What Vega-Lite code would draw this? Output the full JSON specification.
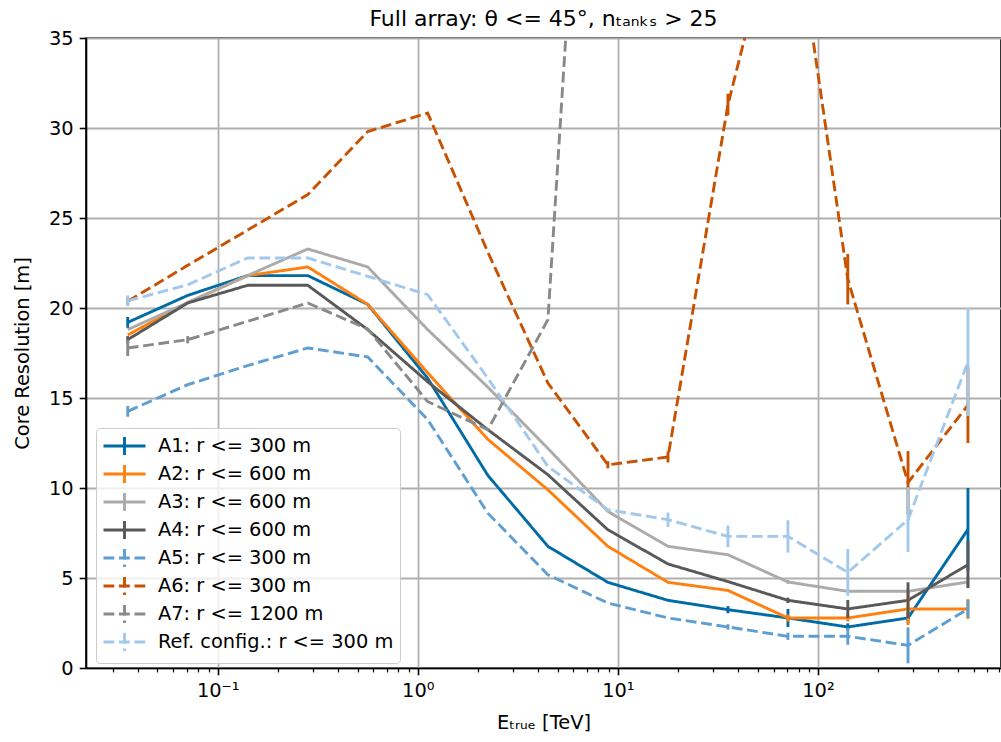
{
  "$schema": "https://vega.github.io/schema/vega-lite/v6.json",
  "width": 915,
  "height": 630,
  "autosize": {"type": "none"},
  "padding": {"left": 86, "top": 38, "right": 0, "bottom": 74},
  "background": "white",
  "title": {"text": "Full array: θ <= 45°, nₜₐₙₖₛ > 25", "font": "DejaVu Sans", "fontSize": 22, "fontWeight": "normal", "color": "black", "anchor": "middle", "frame": "group", "offset": -3},
  "config": {
    "view": {"stroke": "black", "strokeWidth": 1.6},
    "axis": {"labelFont": "DejaVu Sans", "labelFontSize": 19.4, "labelColor": "black", "titleFont": "DejaVu Sans", "titleFontSize": 19.4, "titleFontWeight": "normal", "titleColor": "black", "domainColor": "black", "domainWidth": 1.6, "tickColor": "black", "tickWidth": 1.6, "gridColor": "#b0b0b0", "gridWidth": 1.8}
  },
  "data": {"values": [
    {"series": "A1: r <= 300 m", "E": 0.0355, "R": 19.2, "err": 0.3},
    {"series": "A1: r <= 300 m", "E": 0.0708, "R": 20.7, "err": 0},
    {"series": "A1: r <= 300 m", "E": 0.141, "R": 21.8, "err": 0},
    {"series": "A1: r <= 300 m", "E": 0.282, "R": 21.8, "err": 0},
    {"series": "A1: r <= 300 m", "E": 0.562, "R": 20.2, "err": 0},
    {"series": "A1: r <= 300 m", "E": 1.12, "R": 16.1, "err": 0},
    {"series": "A1: r <= 300 m", "E": 2.24, "R": 10.7, "err": 0},
    {"series": "A1: r <= 300 m", "E": 4.47, "R": 6.76, "err": 0},
    {"series": "A1: r <= 300 m", "E": 8.91, "R": 4.76, "err": 0},
    {"series": "A1: r <= 300 m", "E": 17.8, "R": 3.76, "err": 0},
    {"series": "A1: r <= 300 m", "E": 35.5, "R": 3.24, "err": 0.2},
    {"series": "A1: r <= 300 m", "E": 70.8, "R": 2.78, "err": 0.5},
    {"series": "A1: r <= 300 m", "E": 141, "R": 2.28, "err": 0.2},
    {"series": "A1: r <= 300 m", "E": 282, "R": 2.78, "err": 0.3},
    {"series": "A1: r <= 300 m", "E": 562, "R": 7.7, "err": 2.3},
    {"series": "A2: r <= 600 m", "E": 0.0355, "R": 18.5, "err": 0},
    {"series": "A2: r <= 600 m", "E": 0.0708, "R": 20.3, "err": 0},
    {"series": "A2: r <= 600 m", "E": 0.141, "R": 21.8, "err": 0},
    {"series": "A2: r <= 600 m", "E": 0.282, "R": 22.28, "err": 0},
    {"series": "A2: r <= 600 m", "E": 0.562, "R": 20.2, "err": 0},
    {"series": "A2: r <= 600 m", "E": 1.12, "R": 16.4, "err": 0},
    {"series": "A2: r <= 600 m", "E": 2.24, "R": 12.7, "err": 0},
    {"series": "A2: r <= 600 m", "E": 4.47, "R": 9.9, "err": 0},
    {"series": "A2: r <= 600 m", "E": 8.91, "R": 6.76, "err": 0},
    {"series": "A2: r <= 600 m", "E": 17.8, "R": 4.76, "err": 0},
    {"series": "A2: r <= 600 m", "E": 35.5, "R": 4.31, "err": 0},
    {"series": "A2: r <= 600 m", "E": 70.8, "R": 2.78, "err": 0.2},
    {"series": "A2: r <= 600 m", "E": 141, "R": 2.78, "err": 0.2},
    {"series": "A2: r <= 600 m", "E": 282, "R": 3.28, "err": 0.9},
    {"series": "A2: r <= 600 m", "E": 562, "R": 3.28, "err": 0.55},
    {"series": "A3: r <= 600 m", "E": 0.0355, "R": 18.8, "err": 0},
    {"series": "A3: r <= 600 m", "E": 0.0708, "R": 20.3, "err": 0},
    {"series": "A3: r <= 600 m", "E": 0.141, "R": 21.8, "err": 0},
    {"series": "A3: r <= 600 m", "E": 0.282, "R": 23.28, "err": 0},
    {"series": "A3: r <= 600 m", "E": 0.562, "R": 22.28, "err": 0},
    {"series": "A3: r <= 600 m", "E": 1.12, "R": 18.8, "err": 0},
    {"series": "A3: r <= 600 m", "E": 2.24, "R": 15.6, "err": 0},
    {"series": "A3: r <= 600 m", "E": 4.47, "R": 12.2, "err": 0},
    {"series": "A3: r <= 600 m", "E": 8.91, "R": 8.7, "err": 0},
    {"series": "A3: r <= 600 m", "E": 17.8, "R": 6.76, "err": 0},
    {"series": "A3: r <= 600 m", "E": 35.5, "R": 6.29, "err": 0},
    {"series": "A3: r <= 600 m", "E": 70.8, "R": 4.78, "err": 0.1},
    {"series": "A3: r <= 600 m", "E": 141, "R": 4.26, "err": 0},
    {"series": "A3: r <= 600 m", "E": 282, "R": 4.26, "err": 0.1},
    {"series": "A3: r <= 600 m", "E": 562, "R": 4.78, "err": 0.3},
    {"series": "A4: r <= 600 m", "E": 0.0355, "R": 18.24, "err": 0.2},
    {"series": "A4: r <= 600 m", "E": 0.0708, "R": 20.28, "err": 0},
    {"series": "A4: r <= 600 m", "E": 0.141, "R": 21.26, "err": 0},
    {"series": "A4: r <= 600 m", "E": 0.282, "R": 21.26, "err": 0},
    {"series": "A4: r <= 600 m", "E": 0.562, "R": 18.8, "err": 0},
    {"series": "A4: r <= 600 m", "E": 1.12, "R": 15.9, "err": 0},
    {"series": "A4: r <= 600 m", "E": 2.24, "R": 13.24, "err": 0},
    {"series": "A4: r <= 600 m", "E": 4.47, "R": 10.74, "err": 0},
    {"series": "A4: r <= 600 m", "E": 8.91, "R": 7.68, "err": 0},
    {"series": "A4: r <= 600 m", "E": 17.8, "R": 5.78, "err": 0},
    {"series": "A4: r <= 600 m", "E": 35.5, "R": 4.8, "err": 0},
    {"series": "A4: r <= 600 m", "E": 70.8, "R": 3.76, "err": 0.15},
    {"series": "A4: r <= 600 m", "E": 141, "R": 3.28, "err": 0.5},
    {"series": "A4: r <= 600 m", "E": 282, "R": 3.76, "err": 1.0},
    {"series": "A4: r <= 600 m", "E": 562, "R": 5.74, "err": 1.3},
    {"series": "A5: r <= 300 m", "E": 0.0355, "R": 14.26, "err": 0.3},
    {"series": "A5: r <= 300 m", "E": 0.0708, "R": 15.74, "err": 0},
    {"series": "A5: r <= 300 m", "E": 0.141, "R": 16.8, "err": 0},
    {"series": "A5: r <= 300 m", "E": 0.282, "R": 17.78, "err": 0},
    {"series": "A5: r <= 300 m", "E": 0.562, "R": 17.28, "err": 0},
    {"series": "A5: r <= 300 m", "E": 1.12, "R": 13.8, "err": 0},
    {"series": "A5: r <= 300 m", "E": 2.24, "R": 8.6, "err": 0},
    {"series": "A5: r <= 300 m", "E": 4.47, "R": 5.18, "err": 0},
    {"series": "A5: r <= 300 m", "E": 8.91, "R": 3.61, "err": 0},
    {"series": "A5: r <= 300 m", "E": 17.8, "R": 2.78, "err": 0},
    {"series": "A5: r <= 300 m", "E": 35.5, "R": 2.28, "err": 0.15},
    {"series": "A5: r <= 300 m", "E": 70.8, "R": 1.76, "err": 0.2},
    {"series": "A5: r <= 300 m", "E": 141, "R": 1.76, "err": 0.47},
    {"series": "A5: r <= 300 m", "E": 282, "R": 1.26, "err": 1.0},
    {"series": "A5: r <= 300 m", "E": 562, "R": 3.28, "err": 0.5},
    {"series": "A6: r <= 300 m", "E": 0.0355, "R": 20.37, "err": 0.2},
    {"series": "A6: r <= 300 m", "E": 0.0708, "R": 22.37, "err": 0},
    {"series": "A6: r <= 300 m", "E": 0.141, "R": 24.33, "err": 0},
    {"series": "A6: r <= 300 m", "E": 0.282, "R": 26.3, "err": 0},
    {"series": "A6: r <= 300 m", "E": 0.562, "R": 29.8, "err": 0},
    {"series": "A6: r <= 300 m", "E": 1.12, "R": 30.83, "err": 0},
    {"series": "A6: r <= 300 m", "E": 2.24, "R": 23.1, "err": 0},
    {"series": "A6: r <= 300 m", "E": 4.47, "R": 15.83, "err": 0},
    {"series": "A6: r <= 300 m", "E": 8.91, "R": 11.29, "err": 0.2},
    {"series": "A6: r <= 300 m", "E": 17.8, "R": 11.72, "err": 0.3},
    {"series": "A6: r <= 300 m", "E": 35.5, "R": 31.3, "err": 0.6},
    {"series": "A6: r <= 300 m", "E": 70.8, "R": 44.5, "err": 0},
    {"series": "A6: r <= 300 m", "E": 141, "R": 21.6, "err": 1.4},
    {"series": "A6: r <= 300 m", "E": 282, "R": 10.3, "err": 1.75},
    {"series": "A6: r <= 300 m", "E": 562, "R": 14.6, "err": 2.1},
    {"series": "A7: r <= 1200 m", "E": 0.0355, "R": 17.78, "err": 0.45},
    {"series": "A7: r <= 1200 m", "E": 0.0708, "R": 18.24, "err": 0.2},
    {"series": "A7: r <= 1200 m", "E": 0.141, "R": 19.26, "err": 0},
    {"series": "A7: r <= 1200 m", "E": 0.282, "R": 20.28, "err": 0},
    {"series": "A7: r <= 1200 m", "E": 0.562, "R": 18.83, "err": 0},
    {"series": "A7: r <= 1200 m", "E": 1.12, "R": 14.8, "err": 0},
    {"series": "A7: r <= 1200 m", "E": 2.24, "R": 13.24, "err": 0},
    {"series": "A7: r <= 1200 m", "E": 4.47, "R": 19.35, "err": 0},
    {"series": "A7: r <= 1200 m", "E": 8.91, "R": 72, "err": 0},
    {"series": "Ref. config.: r <= 300 m", "E": 0.0355, "R": 20.4, "err": 0.3},
    {"series": "Ref. config.: r <= 300 m", "E": 0.0708, "R": 21.29, "err": 0},
    {"series": "Ref. config.: r <= 300 m", "E": 0.141, "R": 22.78, "err": 0},
    {"series": "Ref. config.: r <= 300 m", "E": 0.282, "R": 22.78, "err": 0},
    {"series": "Ref. config.: r <= 300 m", "E": 0.562, "R": 21.76, "err": 0},
    {"series": "Ref. config.: r <= 300 m", "E": 1.12, "R": 20.74, "err": 0},
    {"series": "Ref. config.: r <= 300 m", "E": 2.24, "R": 16.1, "err": 0},
    {"series": "Ref. config.: r <= 300 m", "E": 4.47, "R": 11.2, "err": 0},
    {"series": "Ref. config.: r <= 300 m", "E": 8.91, "R": 8.79, "err": 0},
    {"series": "Ref. config.: r <= 300 m", "E": 17.8, "R": 8.24, "err": 0.4},
    {"series": "Ref. config.: r <= 300 m", "E": 35.5, "R": 7.31, "err": 0.6},
    {"series": "Ref. config.: r <= 300 m", "E": 70.8, "R": 7.31, "err": 0.9},
    {"series": "Ref. config.: r <= 300 m", "E": 141, "R": 5.31, "err": 1.3},
    {"series": "Ref. config.: r <= 300 m", "E": 282, "R": 8.24, "err": 1.8},
    {"series": "Ref. config.: r <= 300 m", "E": 562, "R": 17.0, "err": 3.0}
  ]},
  "encoding": {
    "x": {
      "field": "E", "type": "quantitative",
      "scale": {"type": "log", "domain": [0.02196, 822.2], "nice": false, "zero": false},
      "axis": {
        "title": "Eₜᵣᵤₑ [TeV]",
        "titlePadding": 13,
        "values": [0.03,0.04,0.05,0.06,0.07,0.08,0.09,0.1,0.2,0.3,0.4,0.5,0.6,0.7,0.8,0.9,1,2,3,4,5,6,7,8,9,10,20,30,40,50,60,70,80,90,100,200,300,400,500,600,700,800],
        "labelExpr": "datum.value == 0.1 ? '10⁻¹' : datum.value == 1 ? '10⁰' : datum.value == 10 ? '10¹' : datum.value == 100 ? '10²' : ''",
        "labelOverlap": false,
        "labelFlush": false,
        "labelPadding": 7,
        "grid": true,
        "gridOpacity": {"condition": {"test": "datum.value == 0.1 || datum.value == 1 || datum.value == 10 || datum.value == 100", "value": 1}, "value": 0},
        "tickSize": {"condition": {"test": "datum.value == 0.1 || datum.value == 1 || datum.value == 10 || datum.value == 100", "value": 6.8}, "value": 3.9},
        "tickWidth": {"condition": {"test": "datum.value == 0.1 || datum.value == 1 || datum.value == 10 || datum.value == 100", "value": 1.6}, "value": 1.2}
      }
    },
    "y": {
      "field": "R", "type": "quantitative",
      "scale": {"domain": [0, 35], "nice": false, "zero": true},
      "axis": {"title": "Core Resolution [m]", "values": [0,5,10,15,20,25,30,35], "tickSize": 6.8, "labelPadding": 6, "titlePadding": 16, "grid": true}
    },
    "color": {
      "field": "series", "type": "nominal",
      "scale": {
        "domain": ["A1: r <= 300 m","A2: r <= 600 m","A3: r <= 600 m","A4: r <= 600 m","A5: r <= 300 m","A6: r <= 300 m","A7: r <= 1200 m","Ref. config.: r <= 300 m"],
        "range": ["#006BA4","#FF800E","#ABABAB","#595959","#5F9ED1","#C85200","#898989","#A2C8EC"]
      },
      "legend": {
        "title": null, "orient": "none", "legendX": 10, "legendY": 390, "padding": 6,
        "fillColor": "rgba(255,255,255,0.8)", "strokeColor": "#cccccc", "cornerRadius": 4,
        "labelFont": "DejaVu Sans", "labelFontSize": 19.4, "labelColor": "black", "labelLimit": 400,
        "symbolType": "M-1,0H3M1,-0.86V0.86", "symbolSize": 441, "symbolStrokeWidth": 2.9,
        "rowPadding": -2, "labelOffset": 32
      }
    }
  },
  "layer": [
    {
      "mark": {"type": "line", "strokeWidth": 2.9, "clip": true},
      "encoding": {
        "strokeDash": {
          "field": "series", "type": "nominal",
          "scale": {
            "domain": ["A1: r <= 300 m","A2: r <= 600 m","A3: r <= 600 m","A4: r <= 600 m","A5: r <= 300 m","A6: r <= 300 m","A7: r <= 1200 m","Ref. config.: r <= 300 m"],
            "range": [[1,0],[1,0],[1,0],[1,0],[10.8,4.7],[10.8,4.7],[10.8,4.7],[10.8,4.7]]
          },
          "legend": {
            "title": null, "orient": "none", "legendX": 10, "legendY": 390, "padding": 6,
            "fillColor": "rgba(255,255,255,0.8)", "strokeColor": "#cccccc", "cornerRadius": 4,
            "labelFont": "DejaVu Sans", "labelFontSize": 19.4, "labelColor": "black", "labelLimit": 400,
            "symbolType": "M-1,0H3M1,-0.86V0.86", "symbolSize": 441, "symbolStrokeWidth": 2.9,
            "rowPadding": -2, "labelOffset": 32
          }
        }
      }
    },
    {
      "transform": [{"filter": "datum.err > 0"}],
      "mark": {"type": "errorbar", "thickness": 2.9},
      "encoding": {
        "yError": {"field": "err"}
      }
    }
  ]
}
